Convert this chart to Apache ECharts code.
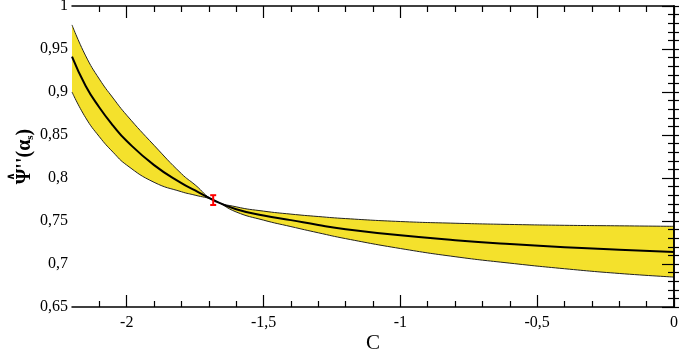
<!DOCTYPE html>
<html>
<head>
<meta charset="utf-8">
<script src="https://cdn.jsdelivr.net/npm/echarts@6/dist/echarts.min.js"></script>
<style>
html, body { margin: 0; padding: 0; background: #fff; }
#chart { width: 679px; height: 349px; }
</style>
</head>
<body>
<div id="chart"></div>
<script>
// values
const cValues = [-2.2, -2.15, -2.1, -2.05, -2.0, -1.9, -1.8, -1.75, -1.684, -1.6, -1.5, -1.4, -1.3, -1.2, -1.0, -0.8, -0.6, -0.4, -0.2, 0]
const central = [0.941, 0.907, 0.882, 0.861, 0.843, 0.815, 0.794, 0.7855, 0.7744, 0.7637, 0.7565, 0.751, 0.7453, 0.7405, 0.7333, 0.7277, 0.7232, 0.7195, 0.7167, 0.714]
const upper = [0.978, 0.942, 0.915, 0.893, 0.873, 0.838, 0.805, 0.792, 0.7744, 0.7665, 0.7615, 0.758, 0.7552, 0.7528, 0.7494, 0.7474, 0.746, 0.745, 0.7444, 0.7438]
const lower = [0.900, 0.870, 0.848, 0.830, 0.815, 0.795, 0.784, 0.780, 0.7744, 0.7605, 0.751, 0.7435, 0.7363, 0.7295, 0.718, 0.7085, 0.701, 0.6945, 0.689, 0.6848]
// error bar: C, low, high
const errBar = [[-1.684, 0.7686, 0.780]]

const xMajorTicks = [-2, -1.5, -1, -0.5, 0]
const xMinorTicks = [-2.1, -1.9, -1.8, -1.7, -1.6, -1.4, -1.3, -1.2, -1.1, -0.9, -0.8, -0.7, -0.6, -0.4, -0.3, -0.2, -0.1]

const font = 'Liberation Serif'
const yellow = '#f4e12c'
const comma = v => String(v).replace('.', ',')
const pairs = arr => cValues.map((c, i) => [c, arr[i]])

// width of the y title line, so the hat can sit over the Psi
const ctx = document.createElement('canvas').getContext('2d')
ctx.font = 'bold 20px "Liberation Serif"'
let titleW = ctx.measureText("\u03A8''(\u03B1)").width
const psiW = ctx.measureText('\u03A8').width
ctx.font = 'bold 11px "Liberation Serif"'
titleW += ctx.measureText('s').width
ctx.font = 'bold 11px "DejaVu Sans"'
const hatPad = Math.max(0, (psiW - ctx.measureText('\u2227').width) / 2)

const xAxisBase = (position, major) => ({
  type: 'value',
  position: position,
  min: -2.2,
  max: 0,
  z: 10,
  axisLine: { show: major, lineStyle: { color: '#000', width: 1.5 } },
  axisTick: {
    inside: true,
    length: major ? 12 : 6,
    customValues: major ? xMajorTicks : xMinorTicks,
    lineStyle: { color: '#000', width: 1.2 },
  },
  axisLabel: { show: false },
  splitLine: { show: false },
})

const yAxisBase = (position) => ({
  type: 'value',
  position: position,
  min: 0.65,
  max: 1,
  interval: 0.05,
  z: 10,
  axisLine: { show: true, lineStyle: { color: '#000', width: 1.5 } },
  axisTick: { inside: true, length: 12, lineStyle: { color: '#000', width: 1.2 } },
  minorTick: { show: true, splitNumber: 5, length: 6, lineStyle: { color: '#000', width: 1.2 } },
  axisLabel: { show: false },
  splitLine: { show: false },
  minorSplitLine: { show: false },
})

const bottomAxis = xAxisBase('bottom', true)
bottomAxis.axisLabel = {
  show: true,
  customValues: xMajorTicks,
  formatter: comma,
  fontFamily: font,
  fontSize: 16,
  color: '#000',
  margin: 8,
}
bottomAxis.name = 'C'
bottomAxis.nameLocation = 'middle'
bottomAxis.nameGap = 26
bottomAxis.nameMoveOverlap = false
bottomAxis.nameTextStyle = { fontFamily: font, fontSize: 21, color: '#000' }

const leftAxis = yAxisBase('left')
leftAxis.axisLabel = {
  show: true,
  formatter: comma,
  fontFamily: font,
  fontSize: 16,
  color: '#000',
  margin: 4,
}
leftAxis.name = "{h|\u2227}\n{a|\u03A8''(\u03B1}{s|s}{a|)}"
leftAxis.nameLocation = 'middle'
leftAxis.nameRotate = 90
leftAxis.nameGap = 36
leftAxis.nameMoveOverlap = false
leftAxis.nameTextStyle = {
  fontFamily: font,
  fontSize: 20,
  fontWeight: 'bold',
  color: '#000',
  rich: {
    h: { fontFamily: 'DejaVu Sans', fontSize: 11, fontWeight: 'bold', color: '#000', lineHeight: 4, width: titleW - hatPad, align: 'left', padding: [0, 0, 0, hatPad] },
    a: { fontFamily: font, fontSize: 20, fontWeight: 'bold', color: '#000', lineHeight: 18 },
    s: { fontFamily: font, fontSize: 11, fontWeight: 'bold', color: '#000', padding: [12, 0, 0, 0] },
  },
}

const option = {
  animation: false,
  grid: { left: 72, right: 5, top: 6, bottom: 42, containLabel: false, outerBoundsMode: 'none' },
  xAxis: [bottomAxis, xAxisBase('bottom', false), xAxisBase('top', true), xAxisBase('top', false)],
  yAxis: [leftAxis, yAxisBase('right')],
  series: [
    {
      type: 'line',
      data: pairs(upper),
      smooth: true,
      symbol: 'none',
      z: 1,
      lineStyle: { color: '#222', width: 1 },
      areaStyle: { color: yellow, opacity: 1, origin: 'start' },
    },
    {
      type: 'line',
      data: pairs(lower),
      smooth: true,
      symbol: 'none',
      z: 2,
      lineStyle: { color: '#222', width: 1 },
      areaStyle: { color: '#fff', opacity: 1, origin: 'start' },
    },
    {
      type: 'line',
      data: pairs(central),
      smooth: true,
      symbol: 'none',
      z: 3,
      lineStyle: { color: '#000', width: 2 },
    },
    {
      type: 'custom',
      data: errBar,
      z: 4,
      renderItem: (params, api) => {
        const lo = api.coord([api.value(0), api.value(1)])
        const hi = api.coord([api.value(0), api.value(2)])
        const w = 3
        const st = { stroke: '#ff0000', lineWidth: 2 }
        return {
          type: 'group',
          children: [
            { type: 'line', shape: { x1: lo[0], y1: lo[1], x2: hi[0], y2: hi[1] }, style: st },
            { type: 'line', shape: { x1: lo[0] - w, y1: lo[1], x2: lo[0] + w, y2: lo[1] }, style: st },
            { type: 'line', shape: { x1: hi[0] - w, y1: hi[1], x2: hi[0] + w, y2: hi[1] }, style: st },
          ],
        }
      },
    },
  ],
}

const chart = echarts.init(document.getElementById('chart'))
chart.setOption(option)
</script>
</body>
</html>
